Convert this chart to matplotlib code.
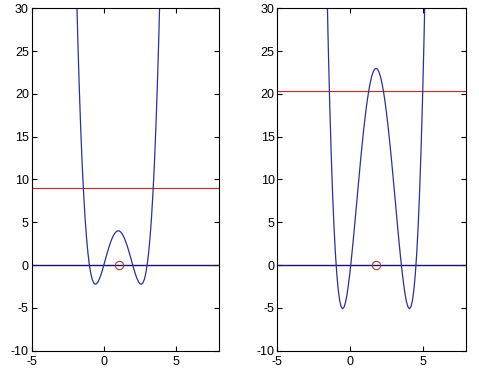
import matplotlib
matplotlib.use('Agg')
import matplotlib.pyplot as plt

plt.rcParams['font.family'] = ['Liberation Sans', 'DejaVu Sans']
plt.rcParams['axes.unicode_minus'] = False

# left panel: curve
x_left = [-1.9, -1.8, -1.7, -1.6, -1.5, -1.4, -1.3, -1.2, -1.1, -1.0,
          -0.9, -0.8, -0.7, -0.6, -0.5, -0.4, -0.3, -0.2, -0.1, 0.0,
          0.1, 0.2, 0.3, 0.4, 0.5, 0.6, 0.7, 0.8, 0.9, 1.0,
          1.1, 1.2, 1.3, 1.4, 1.5, 1.6, 1.7, 1.8, 1.9, 2.0,
          2.1, 2.2, 2.3, 2.4, 2.5, 2.6, 2.7, 2.8, 2.9, 3.0,
          3.1, 3.2, 3.3, 3.4, 3.5, 3.6, 3.7, 3.8, 3.9]
y_left = [32.68, 26.27, 20.69, 15.90, 11.81, 8.38, 5.53, 3.23, 1.40, 0.0,
          -1.02, -1.70, -2.10, -2.25, -2.19, -1.96, -1.59, -1.13, -0.59, 0.0,
          0.61, 1.21, 1.79, 2.33, 2.81, 3.23, 3.56, 3.80, 3.95, 4.00,
          3.95, 3.80, 3.56, 3.23, 2.81, 2.33, 1.79, 1.21, 0.61, 0.0,
          -0.59, -1.13, -1.59, -1.96, -2.19, -2.25, -2.10, -1.70, -1.02, 0.0,
          1.40, 3.23, 5.53, 8.38, 11.81, 15.90, 20.69, 26.27, 32.68]
level_left = 9.0
point_left = (1.05, 0)

# right panel
x_right = [-1.6, -1.5, -1.4, -1.3, -1.2, -1.1, -1.0, -0.9, -0.8, -0.7,
           -0.6, -0.5, -0.4, -0.3, -0.2, -0.1, 0.0, 0.1, 0.2, 0.3,
           0.4, 0.5, 0.6, 0.7, 0.8, 0.9, 1.0, 1.1, 1.2, 1.3,
           1.4, 1.5, 1.6, 1.7, 1.8, 1.9, 2.0, 2.1, 2.2, 2.3,
           2.4, 2.5, 2.6, 2.7, 2.8, 2.9, 3.0, 3.1, 3.2, 3.3,
           3.4, 3.5, 3.6, 3.7, 3.8, 3.9, 4.0, 4.1, 4.2, 4.3,
           4.4, 4.5, 4.6, 4.7, 4.8, 4.9, 5.0, 5.1, 5.2]
y_right = [34.08, 26.14, 19.30, 13.47, 8.58, 4.56, 1.34, -1.15, -2.98, -4.21,
           -4.90, -5.11, -4.90, -4.32, -3.42, -2.25, -0.86, 0.70, 2.40, 4.19,
           6.05, 7.92, 9.79, 11.62, 13.38, 15.05, 16.61, 18.03, 19.30, 20.39,
           21.31, 22.04, 22.56, 22.88, 22.98, 22.88, 22.56, 22.04, 21.31, 20.39,
           19.30, 18.03, 16.61, 15.05, 13.38, 11.62, 9.79, 7.92, 6.05, 4.19,
           2.40, 0.70, -0.86, -2.25, -3.42, -4.32, -4.90, -5.11, -4.90, -4.21,
           -2.98, -1.15, 1.34, 4.56, 8.58, 13.47, 19.30, 26.14, 34.08]
level_right = 20.3
point_right = (1.82, 0)

x_range = [-5, 8]
y_range = [-10, 30]

fig = plt.figure(figsize=(4.79, 3.75), dpi=100)
ax1 = fig.add_axes([0.066, 0.065, 0.392, 0.913])
ax2 = fig.add_axes([0.579, 0.065, 0.394, 0.913])

panels = [(ax1, x_left, y_left, level_left, point_left),
          (ax2, x_right, y_right, level_right, point_right)]

for ax, xs, ys, lev, pt in panels:
    ax.plot(x_range, [0, 0], color='#14146e', lw=1.0)
    ax.plot(x_range, [lev, lev], color='#b03838', lw=0.9)
    ax.plot(xs, ys, color='#2e2e9c', lw=0.9)
    ax.plot(pt[0], pt[1], 'o', mfc='none', mec='#b03838', ms=6, mew=0.8)
    ax.set_xlim(x_range)
    ax.set_ylim(y_range)
    ax.set_xticks([-5, 0, 5])
    ax.set_yticks(range(-10, 31, 5))
    ax.tick_params(direction='in', top=True, right=True, length=3.5,
                   width=0.8, labelsize=9)
    ax.tick_params(axis='y', pad=2)
    ax.tick_params(axis='x', pad=4)
    for s in ax.spines.values():
        s.set_linewidth(0.8)

fig.savefig('out.png', dpi=100)
